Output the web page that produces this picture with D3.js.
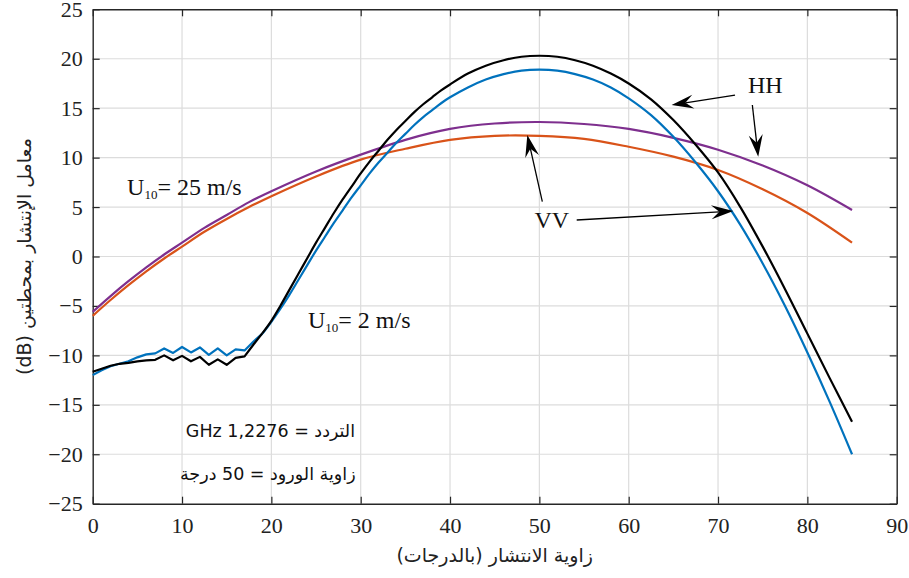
<!DOCTYPE html>
<html><head><meta charset="utf-8">
<script src="https://cdn.jsdelivr.net/npm/d3@7"></script>
<style>body{margin:0;background:#fff}</style>
</head><body><svg id="c" width="909" height="578"></svg>
<script>
// ---------- data ----------
const xTicks = [0,10,20,30,40,50,60,70,80,90];
const yTicks = [-25,-20,-15,-10,-5,0,5,10,15,20,25];

// U10 = 2 m/s (HH black, VV blue)
const lowX = [0,1,2,3,4,5,6,7,8,9,10,11,12,13,14,15,16,17,18,19,
              20,21,22,23,24,25,26,27,28,29,30,31,32,33,34,35,36,37,38,39,40,
              42,44,46,48,50,52,54,56,58,60,62.5,65,67.5,70,72.5,75,77.5,80,82.5,85];
const hh2 = [-11.65,-11.35,-11.05,-10.85,-10.75,-10.6,-10.5,-10.45,-10.0,-10.5,-10.05,-10.6,-10.15,-10.95,-10.4,-10.95,-10.25,-10.1,-8.9,-7.75,
             -6.5,-5.0,-3.4,-1.8,-0.2,1.4,2.9,4.4,5.8,7.1,8.4,9.6,10.7,11.8,12.8,13.7,14.6,15.4,16.1,16.8,17.4,
             18.5,19.3,19.85,20.2,20.3,20.2,19.85,19.3,18.5,17.5,15.9,13.8,11.3,8.5,5.0,1.0,-3.3,-7.8,-12.3,-16.7];
const vv2 = [-12.0,-11.5,-11.1,-10.85,-10.6,-10.2,-9.9,-9.8,-9.3,-9.75,-9.15,-9.7,-9.2,-9.95,-9.3,-10.0,-9.4,-9.5,-8.6,-7.8,
             -6.6,-5.3,-3.9,-2.4,-0.9,0.6,2.0,3.4,4.7,6.0,7.2,8.4,9.5,10.5,11.5,12.4,13.3,14.1,14.8,15.5,16.1,
             17.1,17.9,18.45,18.8,18.9,18.8,18.45,17.9,17.1,16.0,14.3,12.1,9.5,6.6,3.2,-0.7,-5.0,-9.7,-14.7,-20.0];

// U10 = 25 m/s (HH purple, VV orange)
const highX = [0,2,4,6,8,10,12.5,15,17.5,20,25,30,35,40,45,50,55,60,65,70,75,80,85];
const hh25 = [-5.6,-4.0,-2.5,-1.1,0.2,1.4,2.9,4.2,5.5,6.6,8.6,10.3,11.8,12.9,13.45,13.6,13.4,12.9,12.0,10.8,9.2,7.2,4.7];
const vv25 = [-6.0,-4.4,-2.9,-1.5,-0.2,1.0,2.5,3.8,5.0,6.1,8.1,9.8,10.9,11.8,12.2,12.2,11.9,11.1,10.1,8.75,6.8,4.4,1.4];

const xLabel = "زاوية الانتشار (بالدرجات)";
const yLabel = "معامل الإنتشار بمحطتين (dB)";
const infoLines = ["التردد = GHz 1,2276", "زاوية الورود = 50 درجة"];

// ---------- chart ----------
const svg = d3.select("#c");
const L = 92.7, R = 896.7, T = 9.3, B = 503.7;
const x = d3.scaleLinear([0,90],[L,R]);
const y = d3.scaleLinear([-25,25],[B,T]);

const serif = "'Liberation Serif','Times New Roman',serif";
const sans = "'DejaVu Sans',sans-serif";

// grid
const g = svg.append("g");
g.selectAll(".gx").data(xTicks.slice(1,-1)).join("line")
  .attr("x1",d=>x(d)).attr("x2",d=>x(d)).attr("y1",T).attr("y2",B)
  .attr("stroke","#dcdcdc").attr("stroke-width",1.2);
g.selectAll(".gy").data(yTicks.slice(1,-1)).join("line")
  .attr("y1",d=>y(d)).attr("y2",d=>y(d)).attr("x1",L).attr("x2",R)
  .attr("stroke","#dcdcdc").attr("stroke-width",1.2);

// axes
function styleAxis(sel){
  sel.selectAll("path").attr("stroke","#262626").attr("stroke-width",1.4);
  sel.selectAll("line").attr("stroke","#262626").attr("stroke-width",1.2);
  sel.selectAll("text").attr("fill","#222").style("font-family",serif).style("font-size","22px");
}
svg.append("g").attr("transform",`translate(0,${B})`)
  .call(d3.axisBottom(x).tickValues(xTicks).tickSize(-7).tickSizeOuter(0).tickPadding(14).tickFormat(d3.format("d")))
  .call(styleAxis);
svg.append("g").attr("transform",`translate(0,${T})`)
  .call(d3.axisTop(x).tickValues(xTicks).tickSize(-7).tickSizeOuter(0).tickFormat(""))
  .call(styleAxis);
svg.append("g").attr("transform",`translate(${L},0)`)
  .call(d3.axisLeft(y).tickValues(yTicks).tickSize(-7).tickSizeOuter(0).tickPadding(10))
  .call(styleAxis);
svg.append("g").attr("transform",`translate(${R},0)`)
  .call(d3.axisRight(y).tickValues(yTicks).tickSize(-7).tickSizeOuter(0).tickFormat(""))
  .call(styleAxis);

// curves
const lin = d3.line().x(d=>x(d[0])).y(d=>y(d[1])).curve(d3.curveLinear);
const smooth = d3.line().x(d=>x(d[0])).y(d=>y(d[1])).curve(d3.curveCatmullRom.alpha(0.5));
function drawSeries(xs, ys, color, splitAt){
  const pts = xs.map((v,i)=>[v,ys[i]]);
  if (splitAt!=null){
    const a = pts.filter(p=>p[0]<=splitAt), b = pts.filter(p=>p[0]>=splitAt);
    svg.append("path").attr("d",lin(a)).attr("fill","none").attr("stroke",color).attr("stroke-width",2.2).attr("stroke-linejoin","round");
    svg.append("path").attr("d",smooth(b)).attr("fill","none").attr("stroke",color).attr("stroke-width",2.2).attr("stroke-linejoin","round");
  } else {
    svg.append("path").attr("d",smooth(pts)).attr("fill","none").attr("stroke",color).attr("stroke-width",2.2);
  }
}
drawSeries(highX, vv25, "#D95319");
drawSeries(highX, hh25, "#7E2F8E");
drawSeries(lowX, vv2, "#0072BD", 19);
drawSeries(lowX, hh2, "#000000", 19);

// arrows (data coordinates)
const arrows = [
  {from:[71.9,16.33], to:[64.8,15.32]},
  {from:[73.84,15.32], to:[74.5,10.09]},
  {from:[50.33,5.54], to:[48.65,12.29]},
  {from:[54.18,3.69], to:[71.71,4.6]}
];
arrows.forEach(a=>{
  const x1=x(a.from[0]), y1=y(a.from[1]), x2=x(a.to[0]), y2=y(a.to[1]);
  const dx=x2-x1, dy=y2-y1, len=Math.hypot(dx,dy), ux=dx/len, uy=dy/len, px=-uy, py=ux;
  const hl=22, hw=7, notch=14;
  svg.append("line").attr("x1",x1).attr("y1",y1).attr("x2",x2-ux*notch).attr("y2",y2-uy*notch)
    .attr("stroke","#000").attr("stroke-width",1.3);
  const p = [[x2,y2],[x2-ux*hl+px*hw,y2-uy*hl+py*hw],[x2-ux*notch,y2-uy*notch],[x2-ux*hl-px*hw,y2-uy*hl-py*hw]];
  svg.append("path").attr("d","M"+p.map(q=>q.join(",")).join("L")+"Z").attr("fill","#000");
});

// labels
const ann = svg.append("g").style("font-family",serif).attr("fill","#111");
ann.append("text").attr("x",x(75.3)).attr("y",y(16.5)).attr("text-anchor","middle").style("font-size","24px").text("HH");
ann.append("text").attr("x",x(51.4)).attr("y",y(2.86)).attr("text-anchor","middle").style("font-size","24px").text("VV");
function uLabel(xv,yv,rest){
  const t = ann.append("text").attr("x",x(xv)).attr("y",y(yv)).style("font-size","24px");
  t.append("tspan").text("U");
  t.append("tspan").attr("dy",4).style("font-size","13px").text("10");
  t.append("tspan").attr("dy",-4).text(rest);
}
uLabel(3.85,6.22,"= 25 m/s");
uLabel(24.1,-7.26,"= 2 m/s");

const info = svg.append("g").style("font-family",sans).style("font-size","17.5px").attr("fill","#111");
info.append("text").attr("x",x(19.9)).attr("y",y(-18.25)).attr("text-anchor","middle").attr("direction","rtl").text(infoLines[0]);
info.append("text").attr("x",x(19.6)).attr("y",y(-22.6)).attr("text-anchor","middle").attr("direction","rtl").text(infoLines[1]);

svg.append("text").attr("x",(L+R)/2).attr("y",562).attr("text-anchor","middle").attr("direction","rtl")
  .style("font-family",sans).style("font-size","19px").attr("fill","#222").text(xLabel);
svg.append("text").attr("transform",`translate(31,${(T+B)/2}) rotate(-90)`).attr("text-anchor","middle").attr("direction","rtl")
  .style("font-family",sans).style("font-size","19px").attr("fill","#222").text(yLabel);
</script></body></html>
